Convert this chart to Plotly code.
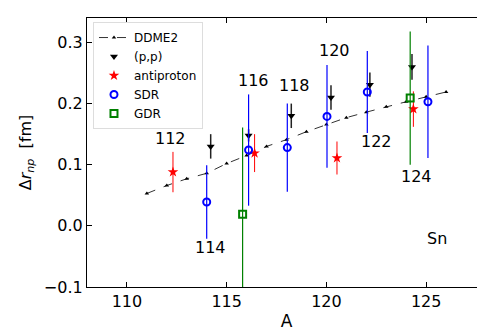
import plotly.graph_objects as go

# DDME2 calculation
ddme2_A = [111, 112, 113, 114, 115, 116, 117, 118, 119, 120, 121, 122, 123, 124, 125, 126]
ddme2_r = [0.053, 0.066, 0.077, 0.086, 0.102, 0.115, 0.130, 0.141, 0.154, 0.166, 0.177, 0.186, 0.195, 0.203, 0.211, 0.219]

# (p,p)
pp_A = [114.2, 116.1, 118.24, 120.23, 122.18, 124.29]
pp_r = [0.130, 0.148, 0.180, 0.210, 0.231, 0.260]
pp_err = [0.020, 0.010, 0.020, 0.020, 0.020, 0.021]

# antiproton
ap_A = [112.31, 116.4, 120.53, 124.36]
ap_r = [0.088, 0.119, 0.111, 0.191]
ap_err = [0.033, 0.031, 0.027, 0.029]

# SDR
sdr_A = [114.0, 116.1, 118.04, 120.03, 122.05, 125.09]
sdr_r = [0.039, 0.124, 0.128, 0.179, 0.219, 0.203]
sdr_err = [0.060, 0.091, 0.072, 0.084, 0.067, 0.092]

# GDR
gdr_A = [115.8, 124.2]
gdr_r = [0.019, 0.209]
gdr_err = [0.142, 0.109]

# isotope labels
lab_text = ["112", "114", "116", "118", "120", "122", "124"]
lab_A = [112.2, 114.2, 116.33, 118.4, 120.4, 122.5, 124.5]
lab_r = [0.143, -0.036, 0.237, 0.229, 0.287, 0.138, 0.080]

font = "DejaVu Sans"

fig = go.Figure()

fig.add_trace(go.Scatter(
    x=ddme2_A, y=ddme2_r, mode="lines+markers", name="DDME2",
    line=dict(color="#333333", width=1, dash="dash"),
    marker=dict(symbol="triangle-up", size=4, color="black"),
))
fig.add_trace(go.Scatter(
    x=pp_A, y=pp_r, mode="markers", name="(p,p)",
    marker=dict(symbol="triangle-down", size=7, color="black"),
    error_y=dict(type="data", array=pp_err, color="#222222", thickness=1.5, width=0),
))
fig.add_trace(go.Scatter(
    x=ap_A, y=ap_r, mode="markers", name="antiproton",
    marker=dict(symbol="star", size=8, color="red"),
    error_y=dict(type="data", array=ap_err, color="red", thickness=1, width=0),
))
fig.add_trace(go.Scatter(
    x=sdr_A, y=sdr_r, mode="markers", name="SDR",
    marker=dict(symbol="circle-open", size=7, color="blue", line=dict(width=2)),
    error_y=dict(type="data", array=sdr_err, color="blue", thickness=1.2, width=0),
))
fig.add_trace(go.Scatter(
    x=gdr_A, y=gdr_r, mode="markers", name="GDR",
    marker=dict(symbol="square-open", size=7, color="green", line=dict(width=2)),
    error_y=dict(type="data", array=gdr_err, color="green", thickness=1.2, width=0),
))

for t, a, r in zip(lab_text, lab_A, lab_r):
    fig.add_annotation(x=a, y=r, text=t, showarrow=False,
                       font=dict(family=font, size=16, color="black"))
fig.add_annotation(x=125.56, y=-0.021, text="Sn", showarrow=False,
                   font=dict(family=font, size=16, color="black"))

axis_common = dict(
    showline=True, linecolor="black", linewidth=1.2, mirror="ticks",
    ticks="inside", ticklen=5, tickwidth=1, tickcolor="black",
    showgrid=False, zeroline=False,
    tickfont=dict(family=font, size=16, color="black"),
)

fig.update_layout(
    width=485, height=331,
    margin=dict(l=79, r=7, t=10, b=52),
    plot_bgcolor="white", paper_bgcolor="white",
    font=dict(family=font, color="black"),
    xaxis=dict(range=[108, 128], dtick=5,
               title=dict(text="A", font=dict(family=font, size=17), standoff=4),
               **axis_common),
    yaxis=dict(range=[-0.1, 0.34], dtick=0.1, tickformat=".1f",
               title=dict(text="Δ<i>r</i><sub><i>np</i></sub>  [fm]",
                          font=dict(family=font, size=16), standoff=8),
               **axis_common),
    showlegend=True,
    legend=dict(x=0.015, y=0.985, xanchor="left", yanchor="top",
                bgcolor="white", bordercolor="#dddddd", borderwidth=1,
                font=dict(family=font, size=12), tracegroupgap=0,
                itemwidth=30),
)

fig.write_html("out.html")
